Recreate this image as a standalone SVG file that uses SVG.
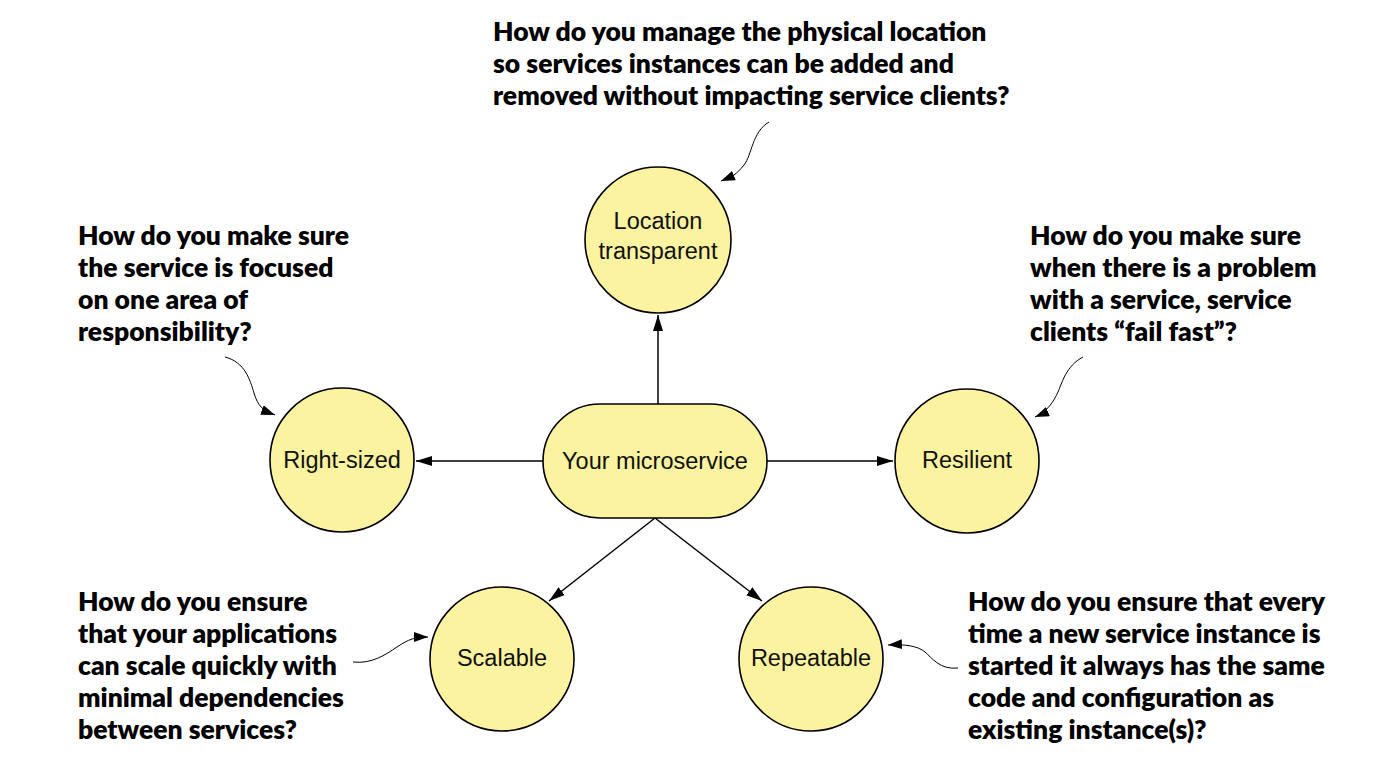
<svg xmlns="http://www.w3.org/2000/svg" width="1394" height="770" viewBox="0 0 1394 770">
<style>
  .node { fill: #FBF3A0; stroke: #000; stroke-width: 1.6; }
  .label { font-family: "Liberation Sans", Arial, sans-serif; font-size: 23.5px; fill: #111; text-anchor: middle; }
  .q { font-family: Lato, "Open Sans", sans-serif; font-weight: 800; font-size: 26.5px; fill: #000; }
  .edge { fill: none; stroke: #000; stroke-width: 1.5; }
  .note { fill: none; stroke: #000; stroke-width: 1; }
</style>
<defs>
  <marker id="arr" markerUnits="userSpaceOnUse" markerWidth="17" markerHeight="11" refX="16" refY="5" orient="auto">
    <path d="M0,0 L16,5 L0,10 z" fill="#000"/>
  </marker>
  <marker id="arrs" markerUnits="userSpaceOnUse" markerWidth="15" markerHeight="11" refX="14" refY="5" orient="auto">
    <path d="M0,0 L14,5 L0,10 z" fill="#000"/>
  </marker>
</defs>
<rect width="1394" height="770" fill="#fff"/>

<g id="connectors">
  <path class="edge" d="M658,404 L658,315" marker-end="url(#arr)"/>
  <path class="edge" d="M543,461 L416,461" marker-end="url(#arr)"/>
  <path class="edge" d="M767,461 L893,461" marker-end="url(#arr)"/>
  <path class="edge" d="M655,518 L549,601" marker-end="url(#arr)"/>
  <path class="edge" d="M655,518 L762,601" marker-end="url(#arr)"/>
  <path class="note" d="M769,122 C752,132 752,155 744,165 S733,176 721,181" marker-end="url(#arrs)"/>
  <path class="note" d="M225,357 C245,362 250,380 254,393 S262,410 275,415" marker-end="url(#arrs)"/>
  <path class="note" d="M1083,357 C1066,366 1062,383 1058,392 S1047,412 1035,417" marker-end="url(#arrs)"/>
  <path class="note" d="M353,662 C372,664 385,655 397,647 S415,637 428,637" marker-end="url(#arrs)"/>
  <path class="note" d="M958,668 C940,670 932,658 925,652 S905,644 888,645" marker-end="url(#arrs)"/>
</g>

<g id="node-microservice">
  <rect class="node" x="543" y="404" width="224" height="114" rx="57" ry="57"/>
  <text class="label" x="655" y="469">Your microservice</text>
</g>
<g id="node-location">
  <circle class="node" cx="658" cy="240" r="73"/>
  <text class="label" x="658" y="229">Location</text>
  <text class="label" x="658" y="259">transparent</text>
</g>
<g id="node-rightsized">
  <circle class="node" cx="342" cy="460" r="72"/>
  <text class="label" x="342" y="468">Right-sized</text>
</g>
<g id="node-resilient">
  <circle class="node" cx="967" cy="461" r="72"/>
  <text class="label" x="967" y="468">Resilient</text>
</g>
<g id="node-scalable">
  <circle class="node" cx="502" cy="659" r="72"/>
  <text class="label" x="502" y="666">Scalable</text>
</g>
<g id="node-repeatable">
  <circle class="node" cx="811" cy="659" r="72"/>
  <text class="label" x="811" y="666">Repeatable</text>
</g>

<g id="text-top">
  <text class="q" x="493" y="41">How do you manage the physical location</text>
  <text class="q" x="493" y="73">so services instances can be added and</text>
  <text class="q" x="493" y="105">removed without impacting service clients?</text>
</g>
<g id="text-left">
  <text class="q" x="78" y="245">How do you make sure</text>
  <text class="q" x="78" y="277">the service is focused</text>
  <text class="q" x="78" y="309">on one area of</text>
  <text class="q" x="78" y="341">responsibility?</text>
</g>
<g id="text-right">
  <text class="q" x="1030" y="245">How do you make sure</text>
  <text class="q" x="1030" y="277">when there is a problem</text>
  <text class="q" x="1030" y="309">with a service, service</text>
  <text class="q" x="1030" y="341">clients “fail fast”?</text>
</g>
<g id="text-bottom-left">
  <text class="q" x="78" y="611">How do you ensure</text>
  <text class="q" x="78" y="643">that your applications</text>
  <text class="q" x="78" y="675">can scale quickly with</text>
  <text class="q" x="78" y="707">minimal dependencies</text>
  <text class="q" x="78" y="739">between services?</text>
</g>
<g id="text-bottom-right">
  <text class="q" x="968" y="611">How do you ensure that every</text>
  <text class="q" x="968" y="643">time a new service instance is</text>
  <text class="q" x="968" y="675">started it always has the same</text>
  <text class="q" x="968" y="707">code and configuration as</text>
  <text class="q" x="968" y="739">existing instance(s)?</text>
</g>
</svg>
